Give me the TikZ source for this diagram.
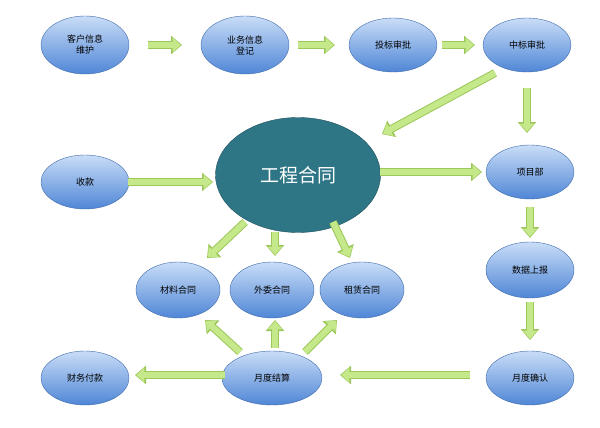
\documentclass[tikz,border=0pt]{standalone}
\usepackage{fontspec}
\setmainfont{Noto Sans CJK SC}
\usetikzlibrary{shapes.geometric,arrows.meta}
\definecolor{arr}{HTML}{C4E88A}
\definecolor{arrd}{HTML}{9CC75A}
\definecolor{eb}{HTML}{4F86D6}
\definecolor{et}{HTML}{C9DDF7}
\definecolor{core}{HTML}{2E7585}
\tikzset{
 el/.style={ellipse,draw=eb!80!black,line width=0.4pt,top color=et,bottom color=eb,minimum width=88pt,minimum height=58pt,inner sep=0pt,align=center,font=\fontsize{9}{11}\selectfont},
 fat/.style={draw=arrd,line width=8pt,-{Triangle[length=11pt,width=18pt]},shorten <=0pt},
 fatin/.style={draw=arr,line width=6pt,-{Triangle[length=8pt,width=14pt]}},
}
\newcommand{\fa}[2]{\draw[fat] #1 -- #2; \draw[fatin,shorten >=1.3pt] #1 -- #2;}
\begin{document}
\begin{tikzpicture}[x=1pt,y=-1pt]
\useasboundingbox[fill=white] (0,0) rectangle (600,428);
\node[el] (kh) at (85,45) {客户信息\\维护};
\node[el] (yw) at (245,45) {业务信息\\登记};
\node[el,minimum height=54pt] (tb) at (393,45) {投标审批};
\node[el,minimum height=54pt] (zb) at (527,45) {中标审批};
\node[ellipse,draw=core!70!black,fill=core,minimum width=165pt,minimum height=115pt,text=white,font=\fontsize{19}{22}\selectfont] (gc) at (298,175) {工程合同};
\node[el,minimum height=54pt] (sk) at (85,182) {收款};
\node[el,minimum height=54pt] (xm) at (530,172) {项目部};
\node[el,minimum height=56pt] (sj) at (530,270) {数据上报};
\node[el,minimum width=84pt,minimum height=56pt] (cl) at (178,290) {材料合同};
\node[el,minimum width=84pt,minimum height=56pt] (ww) at (272,290) {外委合同};
\node[el,minimum width=84pt,minimum height=56pt] (zl) at (362,290) {租赁合同};
\node[el,minimum height=54pt] (cw) at (85,378) {财务付款};
\node[el,minimum width=100pt,minimum height=54pt] (yd) at (272,378) {月度结算};
\node[el,minimum height=54pt] (qr) at (530,378) {月度确认};
\coordinate (a1) at (148,45); \coordinate (b1) at (182,45);
\coordinate (a2) at (298,45); \coordinate (b2) at (335,45);
\coordinate (a3) at (442,45); \coordinate (b3) at (475,45);
\coordinate (a4) at (495,73); \coordinate (b4) at (382,134);
\coordinate (a5) at (527,88); \coordinate (b5) at (527,133);
\coordinate (a6) at (128,182); \coordinate (b6) at (213,182);
\coordinate (a7) at (380,172); \coordinate (b7) at (482,172);
\coordinate (a8) at (530,207); \coordinate (b8) at (530,238);
\coordinate (a9) at (530,302); \coordinate (b9) at (530,340);
\coordinate (a10) at (470,375); \coordinate (b10) at (340,375);
\coordinate (a11) at (225,375); \coordinate (b11) at (135,375);
\coordinate (a12) at (240,352); \coordinate (b12) at (205,320);
\coordinate (a13) at (275,348); \coordinate (b13) at (275,320);
\coordinate (a14) at (305,352); \coordinate (b14) at (337,320);
\coordinate (a15) at (245,222); \coordinate (b15) at (207,258);
\coordinate (a16) at (275,232); \coordinate (b16) at (275,256);
\coordinate (a17) at (333,222); \coordinate (b17) at (350,258);
\foreach \i in {1,...,17}{\fa{(a\i)}{(b\i)}}
\end{tikzpicture}
\end{document}
